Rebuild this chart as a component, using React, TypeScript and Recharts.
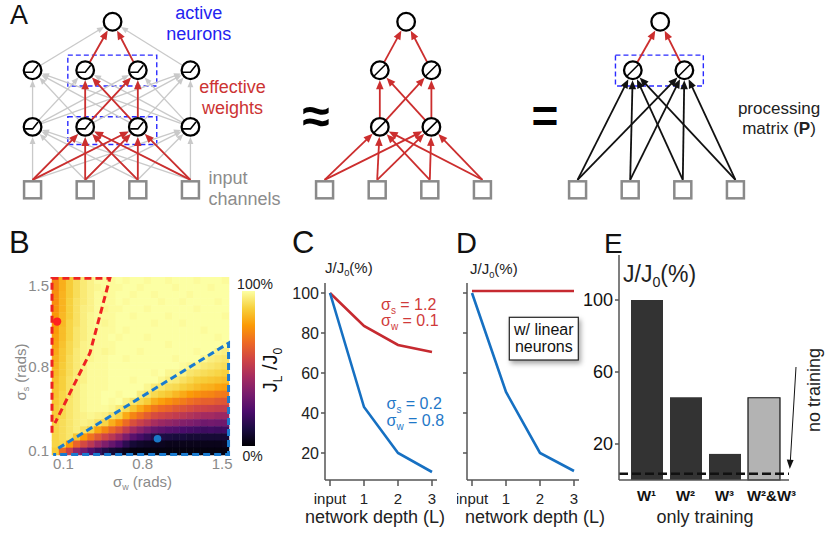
import React from 'react';
import {
  ScatterChart, Scatter, LineChart, Line, BarChart, Bar, Cell,
  XAxis, YAxis, ReferenceLine, ReferenceArea,
} from 'recharts';

const FONT = '"Liberation Sans", Arial, Helvetica, sans-serif';
const RED = '#c62a30';
const BLUE = '#1670c2';
const EDGE_RED = '#cc2e2e';
const EDGE_GREY = '#c9c9c9';
const LABEL_GREY = '#8a8a8a';

// ---------- A: network diagrams (column index, layer index) ----------
const layerHeights = [0, 1.0, 1.9, 2.67];
const inputCols = [0, 1, 2, 3];
const wideHidden = [0, 1, 2, 3];
const narrowHidden = [1.05, 2.03];
const boxPad: Record<number, [number, number]> = { 1: [-0.28, 0.16], 2: [-0.25, 0.24] };

const nets = [
  { left: 1, hiddenCols: wideHidden, hiddenLayers: [1, 2], active: [1, 2], topCol: 1.52, icon: 'relu', inColor: EDGE_RED, grey: true, boxes: [1, 2] },
  { left: 293, hiddenCols: narrowHidden, hiddenLayers: [1, 2], active: [0, 1], topCol: 1.55, icon: 'lin', inColor: EDGE_RED, grey: false, boxes: [] as number[] },
  { left: 546, hiddenCols: narrowHidden, hiddenLayers: [2], active: [0, 1], topCol: 1.57, icon: 'lin', inColor: '#111', grey: false, boxes: [2] },
];

// ---------- B: heat map J_L/J_0 (%), rows top (sigma_s=1.5) -> bottom (0.1), cols sigma_w 0 -> 1.56 ----------
const heatRows: number[][] = [
  [74, 82, 88, 92, 95, 97, 99, 99, 99, 100, 99, 100, 100, 99, 100, 100, 99, 100, 100, 100, 99, 100, 100, 100, 99],
  [74, 82, 88, 92, 95, 97, 98, 99, 99, 99, 100, 100, 99, 100, 100, 100, 100, 99, 100, 100, 100, 100, 99, 100, 100],
  [75, 83, 88, 92, 95, 97, 99, 98, 99, 100, 100, 99, 100, 100, 99, 100, 100, 100, 100, 99, 100, 100, 100, 100, 100],
  [75, 83, 89, 93, 95, 97, 99, 99, 99, 100, 99, 100, 100, 100, 100, 99, 100, 100, 99, 100, 100, 100, 100, 99, 100],
  [76, 83, 89, 93, 96, 97, 99, 98, 99, 99, 100, 100, 100, 99, 100, 100, 100, 100, 100, 100, 99, 100, 100, 100, 100],
  [77, 84, 89, 93, 96, 98, 99, 99, 99, 100, 100, 99, 100, 100, 100, 100, 99, 100, 100, 100, 100, 100, 100, 100, 99],
  [77, 84, 90, 93, 96, 98, 99, 98, 99, 100, 100, 100, 100, 100, 99, 100, 100, 100, 99, 100, 100, 100, 100, 100, 100],
  [78, 85, 90, 94, 96, 98, 99, 99, 99, 100, 99, 100, 100, 100, 100, 100, 100, 100, 100, 100, 100, 99, 100, 100, 100],
  [79, 85, 90, 94, 96, 98, 99, 99, 100, 99, 100, 100, 100, 99, 100, 100, 100, 100, 100, 100, 100, 100, 100, 99, 100],
  [80, 86, 91, 94, 97, 98, 99, 99, 99, 100, 100, 100, 100, 100, 100, 100, 99, 100, 100, 100, 100, 100, 100, 100, 99],
  [81, 87, 91, 95, 97, 98, 99, 98, 99, 100, 100, 100, 99, 100, 100, 100, 100, 100, 100, 100, 99, 100, 100, 97, 96],
  [82, 87, 92, 95, 97, 98, 99, 99, 100, 100, 99, 100, 100, 100, 100, 100, 100, 99, 100, 100, 100, 98, 96, 95, 94],
  [83, 88, 92, 95, 97, 99, 99, 99, 100, 100, 100, 100, 100, 100, 100, 100, 100, 100, 99, 98, 97, 95, 94, 93, 92],
  [84, 88, 92, 95, 97, 99, 99, 99, 100, 100, 100, 100, 100, 100, 99, 100, 98, 98, 97, 94, 93, 92, 91, 90, 89],
  [85, 89, 93, 96, 97, 99, 99, 99, 100, 100, 100, 99, 100, 100, 100, 98, 96, 95, 93, 91, 89, 88, 87, 86, 85],
  [86, 89, 93, 96, 98, 99, 99, 99, 100, 100, 100, 100, 100, 98, 95, 94, 92, 91, 89, 87, 85, 83, 82, 80, 79],
  [86, 90, 93, 96, 98, 99, 99, 100, 100, 99, 100, 100, 96, 94, 91, 89, 87, 84, 81, 78, 76, 74, 73, 71, 70],
  [87, 90, 94, 96, 98, 99, 99, 100, 99, 100, 97, 94, 91, 88, 82, 79, 76, 73, 71, 68, 66, 64, 64, 62, 61],
  [88, 91, 94, 96, 98, 99, 99, 99, 98, 95, 92, 87, 81, 75, 70, 67, 65, 62, 60, 58, 56, 55, 54, 53, 53],
  [88, 91, 94, 96, 97, 98, 97, 96, 93, 90, 81, 73, 68, 63, 58, 56, 54, 52, 50, 48, 46, 44, 44, 42, 42],
  [90, 92, 94, 96, 97, 96, 93, 90, 82, 75, 67, 59, 54, 50, 45, 42, 40, 38, 36, 35, 33, 31, 32, 31, 31],
  [90, 92, 94, 96, 93, 89, 80, 73, 66, 60, 52, 44, 38, 33, 29, 27, 25, 24, 22, 21, 20, 19, 20, 19, 20],
  [90, 92, 94, 87, 78, 69, 62, 56, 50, 43, 34, 26, 21, 17, 13, 12, 11, 10, 10, 9, 9, 9, 9, 9, 9],
  [90, 91, 78, 65, 57, 50, 42, 35, 29, 23, 15, 9, 7, 6, 5, 5, 4, 4, 4, 4, 4, 4, 4, 4, 5],
  [88, 67, 54, 40, 32, 24, 18, 13, 9, 7, 4, 2, 2, 2, 2, 2, 2, 2, 2, 2, 2, 2, 2, 2, 2],
];
const swDomain = [0, 1.56];
const ssDomain = [0.064, 1.553];
const heatTicks = [0.1, 0.8, 1.5];
const redRegion = [
  { x: 0.0, y: 0.25 }, { x: 0.0, y: 1.543 }, { x: 0.51, y: 1.543 }, { x: 0.335, y: 0.92 }, { x: 0.026, y: 0.33 },
];
const blueRegion = [
  { x: 0.055, y: 0.12 }, { x: 1.556, y: 1.0 }, { x: 1.556, y: 0.068 }, { x: 0.01, y: 0.068 },
];
const redPoint = [{ x: 0.045, y: 1.18 }];
const bluePoint = [{ x: 0.93, y: 0.2 }];

// ---------- C / D: J/J0 vs depth ----------
const depthLabels = ['input', '1', '2', '3'];
const cRed = [100, 83.5, 74, 70.5];
const cBlue = [100, 43, 20, 10.5];
const dRed = [101, 101, 101, 101];
const dBlue = [100, 50.5, 20, 11];
const depthTicks = [20, 40, 60, 80, 100];

// ---------- E: only-training bars ----------
const eLabels = ['W¹', 'W²', 'W³', 'W²&W³'];
const eValues = [100, 46, 14.5, 45.7];
const eFills = ['#333333', '#333333', '#333333', '#b3b3b3'];
const noTraining = 3.5;

const INFERNO = ['#000004', '#1b0c42', '#4b0c6b', '#781c6d', '#a52c60', '#cf4446', '#ed6925', '#fb9a06', '#f7d03c', '#fcffa4'];
function hex(c: string) {
  return [1, 3, 5].map((i) => parseInt(c.slice(i, i + 2), 16));
}
function inferno(v: number) {
  const t = Math.max(0, Math.min(1, v)) * 9;
  const i = Math.min(8, Math.floor(t));
  const f = t - i;
  const a = hex(INFERNO[i]);
  const b = hex(INFERNO[i + 1]);
  const m = a.map((x, k) => Math.round(x + (b[k] - x) * f));
  return `rgb(${m[0]},${m[1]},${m[2]})`;
}

function arrowShape(color: string, width: number, head: number, fromSquare: boolean) {
  return (p: any) => {
    const { x1, y1, x2, y2 } = p;
    let sx = x1;
    let sy = fromSquare ? y1 - 10 : y1;
    const dx = x2 - sx;
    const dy = y2 - sy;
    const len = Math.hypot(dx, dy) || 1;
    const ux = dx / len;
    const uy = dy / len;
    if (!fromSquare) {
      sx += ux * 9.5;
      sy += uy * 9.5;
    }
    const tx = x2 - ux * 10;
    const ty = y2 - uy * 10;
    const bx = tx - ux * head;
    const by = ty - uy * head;
    const hw = head * 0.42;
    return (
      <g>
        <line x1={sx} y1={sy} x2={bx + ux} y2={by + uy} stroke={color} strokeWidth={width} />
        <polygon points={`${tx},${ty} ${bx - uy * hw},${by + ux * hw} ${bx + uy * hw},${by - ux * hw}`} fill={color} />
      </g>
    );
  };
}

const SquareNode = (p: any) => (
  <rect x={p.cx - 8.5} y={p.cy - 8.5} width={17} height={17} fill="#fff" stroke="#8a8a8a" strokeWidth={2.5} />
);
const OutNode = (p: any) => <circle cx={p.cx} cy={p.cy} r={8.8} fill="#fff" stroke="#000" strokeWidth={2.3} />;
const ReluNode = (p: any) => (
  <g>
    <circle cx={p.cx} cy={p.cy} r={8.8} fill="#fff" stroke="#000" strokeWidth={2.3} />
    <polyline points={`${p.cx - 7.5},${p.cy + 2} ${p.cx},${p.cy + 2} ${p.cx + 5.5},${p.cy - 5}`} fill="none" stroke="#000" strokeWidth={1.6} />
  </g>
);
const LinNode = (p: any) => (
  <g>
    <circle cx={p.cx} cy={p.cy} r={8.8} fill="#fff" stroke="#000" strokeWidth={2.3} />
    <line x1={p.cx - 6} y1={p.cy + 6} x2={p.cx + 6} y2={p.cy - 6} stroke="#000" strokeWidth={1.5} />
  </g>
);

type P = { x: number; y: number };
function Network({ cfg }: { cfg: (typeof nets)[number] }) {
  const inputs: P[] = inputCols.map((c) => ({ x: c, y: layerHeights[0] }));
  const hidden: P[][] = cfg.hiddenLayers.map((l) => cfg.hiddenCols.map((c) => ({ x: c, y: layerHeights[l] })));
  const top: P[] = [{ x: cfg.topCol, y: layerHeights[3] }];
  const layers = [inputs, ...hidden, top];
  const greyEdges: { a: P; b: P; sq: boolean }[] = [];
  const inEdges: { a: P; b: P; sq: boolean }[] = [];
  const redEdges: { a: P; b: P; sq: boolean }[] = [];
  for (let k = 0; k < layers.length - 1; k++) {
    const from = layers[k];
    const to = layers[k + 1];
    const fromAct = k === 0 ? from : cfg.active.map((i) => from[i]);
    const toAct = k + 1 === layers.length - 1 ? to : cfg.active.map((i) => to[i]);
    if (cfg.grey) from.forEach((a) => to.forEach((b) => greyEdges.push({ a, b, sq: k === 0 })));
    fromAct.forEach((a) => toAct.forEach((b) => (k === 0 ? inEdges : redEdges).push({ a, b, sq: k === 0 })));
  }
  const hiddenNodes = hidden.flat();
  const actCols = cfg.active.map((i) => cfg.hiddenCols[i]);
  return (
    <ScatterChart width={221} height={214} margin={{ top: 0, right: 0, bottom: 0, left: 0 }}>
      <XAxis type="number" dataKey="x" domain={[-0.6, 3.6]} hide />
      <YAxis type="number" dataKey="y" domain={[-0.4, 3.0]} hide />
      {cfg.boxes.map((l) => (
        <ReferenceArea
          key={`box${l}`}
          x1={Math.min(...actCols) - 0.33}
          x2={Math.max(...actCols) + 0.36}
          y1={layerHeights[l] + boxPad[l][0]}
          y2={layerHeights[l] + boxPad[l][1]}
          fill="none"
          fillOpacity={0}
          stroke="#2a2aff"
          strokeWidth={1.4}
          strokeDasharray="5 3"
        />
      ))}
      {greyEdges.map((e, i) => (
        <ReferenceLine key={`g${i}`} segment={[e.a, e.b]} shape={arrowShape(EDGE_GREY, 1.3, 7, e.sq)} />
      ))}
      {inEdges.map((e, i) => (
        <ReferenceLine key={`i${i}`} segment={[e.a, e.b]} shape={arrowShape(cfg.inColor, 1.8, 9, true)} />
      ))}
      {redEdges.map((e, i) => (
        <ReferenceLine key={`r${i}`} segment={[e.a, e.b]} shape={arrowShape(EDGE_RED, 1.8, 9, false)} />
      ))}
      <Scatter data={inputs} shape={SquareNode} isAnimationActive={false} />
      <Scatter data={hiddenNodes} shape={cfg.icon === 'relu' ? ReluNode : LinNode} isAnimationActive={false} />
      <Scatter data={top} shape={OutNode} isAnimationActive={false} />
    </ScatterChart>
  );
}

const HeatCell = (p: any) => {
  const v = p.payload?.v ?? p.v;
  return <rect x={p.cx - 3.8} y={p.cy - 3.8} width={7.6} height={7.6} fill={inferno(v / 100)} />;
};
const NoShape = () => <g />;

function HeatMap() {
  const nr = heatRows.length;
  const nc = heatRows[0].length;
  const cells = heatRows.flatMap((row, r) =>
    row.map((v, c) => ({
      x: swDomain[0] + ((c + 0.5) * (swDomain[1] - swDomain[0])) / nc,
      y: ssDomain[1] - ((r + 0.5) * (ssDomain[1] - ssDomain[0])) / nr,
      v,
    })),
  );
  const tick = { fontSize: 15, fill: LABEL_GREY };
  return (
    <ScatterChart width={235} height={208} margin={{ top: 0, right: 6, bottom: 0, left: 0 }}>
      <XAxis type="number" dataKey="x" domain={swDomain} ticks={heatTicks} axisLine={false} tickLine={false} tickSize={0} tickMargin={3} tick={tick} height={30} />
      <YAxis type="number" dataKey="y" domain={ssDomain} ticks={heatTicks} axisLine={false} tickLine={false} tickSize={0} tickMargin={3} tick={tick} width={52} />
      <Scatter data={cells} shape={HeatCell} isAnimationActive={false} />
      <Scatter data={redRegion} shape={NoShape} line={{ stroke: '#ee2222', strokeWidth: 3, strokeDasharray: '7 4' }} isAnimationActive={false} />
      <Scatter data={blueRegion} shape={NoShape} line={{ stroke: '#1a7bd0', strokeWidth: 3, strokeDasharray: '7 4' }} isAnimationActive={false} />
      <Scatter data={redPoint} shape={(p: any) => <circle cx={p.cx} cy={p.cy} r={4.2} fill="#ff2020" />} isAnimationActive={false} />
      <Scatter data={bluePoint} shape={(p: any) => <circle cx={p.cx} cy={p.cy} r={3.8} fill="#1a78c8" />} isAnimationActive={false} />
    </ScatterChart>
  );
}

const axisStyle = { stroke: '#555', strokeWidth: 1.5 };

function DepthChart({ red, blue, labels }: { red: number[]; blue: number[]; labels: boolean }) {
  const data = depthLabels.map((d, i) => ({ depth: d, red: red[i], blue: blue[i] }));
  const yw = labels ? 40 : 10;
  return (
    <LineChart width={yw + 112} height={247} data={data} margin={{ top: 0, right: 0, bottom: 0, left: 0 }}>
      <XAxis dataKey="depth" interval={0} padding={{ left: 5, right: 5 }} tickSize={6} tickMargin={7} axisLine={axisStyle} tickLine={axisStyle} tick={{ fontSize: 15, fill: '#222' }} height={50} />
      <YAxis
        width={yw}
        domain={[6.5, 105]}
        ticks={depthTicks}
        tickSize={4}
        axisLine={axisStyle}
        tickLine={axisStyle}
        tick={{ fontSize: 16, fill: '#222' }}
        tickFormatter={labels ? undefined : () => ''}
      />
      <Line type="linear" dataKey="red" stroke={RED} strokeWidth={2.6} dot={false} isAnimationActive={false} />
      <Line type="linear" dataKey="blue" stroke={BLUE} strokeWidth={2.6} dot={false} isAnimationActive={false} />
    </LineChart>
  );
}

const ETick = (p: any) => (
  <text x={p.x + (p.index === 3 ? 8 : 0)} y={p.y} dy="0.71em" textAnchor="middle" fontSize={15} fontWeight="bold" fill="#111">
    {p.payload.value}
  </text>
);

function TrainingChart() {
  const data = eLabels.map((n, i) => ({ name: n, v: eValues[i] }));
  return (
    <BarChart width={240} height={270} data={data} margin={{ top: 0, right: 30, bottom: 0, left: 0 }} barSize={32}>
      <XAxis dataKey="name" interval={0} padding={{ left: 8, right: 6 }} tickLine={false} tickSize={0} tickMargin={10} axisLine={axisStyle} tick={<ETick />} height={45} />
      <YAxis width={40} domain={[0, 125]} ticks={[20, 60, 100]} tickSize={4} axisLine={axisStyle} tickLine={axisStyle} tick={{ fontSize: 18, fill: '#111' }} />
      <Bar dataKey="v" isAnimationActive={false}>
        {data.map((d, i) => (
          <Cell key={d.name} fill={eFills[i]} stroke={i === 3 ? '#111' : 'none'} strokeWidth={1.2} />
        ))}
      </Bar>
      <ReferenceLine y={noTraining} stroke="#111" strokeWidth={2.5} strokeDasharray="9 4" />
    </BarChart>
  );
}

function JJ0({ x, y, size }: { x: number; y: number; size: number }) {
  return (
    <text x={x} y={y} fontSize={size} fill="#222">
      J/J<tspan fontSize={size * 0.62} dy={size * 0.25}>0</tspan>
      <tspan dy={-size * 0.25}>(%)</tspan>
    </text>
  );
}

function Sigma({ x, y, sub, val, color }: { x: number; y: number; sub: string; val: string; color: string }) {
  return (
    <text x={x} y={y} fontSize={16} fill={color}>
      σ<tspan fontSize={10} dy={4}>{sub}</tspan>
      <tspan dy={-4}>{` = ${val}`}</tspan>
    </text>
  );
}

function Overlay() {
  return (
    <svg width={825} height={533} style={{ position: 'absolute', left: 0, top: 0, pointerEvents: 'none', fontFamily: FONT }}>
      <defs>
        <filter id="shadow" x="-20%" y="-20%" width="150%" height="160%">
          <feDropShadow dx="2" dy="3" stdDeviation="2.5" floodColor="#000" floodOpacity="0.35" />
        </filter>
      </defs>
      {/* panel letters */}
      <text x={10} y={23.5} fontSize={27} fill="#111">A</text>
      <text x={9} y={253} fontSize={31} fill="#111">B</text>
      <text x={292} y={253} fontSize={31} fill="#111">C</text>
      <text x={456} y={253} fontSize={29} fill="#111">D</text>
      <text x={604} y={253} fontSize={28} fill="#111">E</text>

      {/* A annotations */}
      <text x={198.7} y={18.5} fontSize={18} fill="#2323f0" textAnchor="middle">active</text>
      <text x={198.7} y={40} fontSize={18} fill="#2323f0" textAnchor="middle">neurons</text>
      <text x={232.5} y={93} fontSize={18} fill="#cc3333" textAnchor="middle">effective</text>
      <text x={232.5} y={113.5} fontSize={18} fill="#cc3333" textAnchor="middle">weights</text>
      <text x={208.5} y={183.5} fontSize={18} fill="#8c8c8c">input</text>
      <text x={208.5} y={205} fontSize={18} fill="#8c8c8c">channels</text>
      <text x={316} y={133} fontSize={50} fontWeight="bold" fill="#000" textAnchor="middle">≈</text>
      <text x={545} y={132} fontSize={46} fontWeight="bold" fill="#000" textAnchor="middle">=</text>
      <text x={779} y={113.5} fontSize={17} fill="#222" textAnchor="middle">processing</text>
      <text x={779} y={134} fontSize={17} fill="#222" textAnchor="middle">
        matrix (<tspan fontWeight="bold">P</tspan>)
      </text>

      {/* B labels */}
      <text x={26} y={372} fontSize={15} fill={LABEL_GREY} textAnchor="middle" transform="rotate(-90 26 372)">
        σ<tspan fontSize={9} dy={3}>s</tspan>
        <tspan dy={-3}> (rads)</tspan>
      </text>
      <text x={142.5} y={487} fontSize={15} fill={LABEL_GREY} textAnchor="middle">
        σ<tspan fontSize={9} dy={3}>w</tspan>
        <tspan dy={-3}> (rads)</tspan>
      </text>
      <text x={255} y={288.5} fontSize={14} fill="#222" textAnchor="middle">100%</text>
      <text x={252.5} y={460.5} fontSize={14} fill="#222" textAnchor="middle">0%</text>
      <text x={277} y={370} fontSize={20} fill="#111" textAnchor="middle" transform="rotate(-90 277 370)">
        J<tspan fontSize={12} dy={5}>L</tspan>
        <tspan dy={-5}> /J</tspan>
        <tspan fontSize={12} dy={5}>0</tspan>
      </text>

      {/* C */}
      <JJ0 x={325} y={272.5} size={15} />
      <Sigma x={381} y={310} sub="s" val="1.2" color="#d03a3a" />
      <Sigma x={381} y={326} sub="w" val="0.1" color="#d03a3a" />
      <Sigma x={386.5} y={409} sub="s" val="0.2" color="#1f78c8" />
      <Sigma x={386.5} y={426} sub="w" val="0.8" color="#1f78c8" />
      <text x={375} y={523} fontSize={18} fill="#222" textAnchor="middle">network depth (L)</text>

      {/* D */}
      <JJ0 x={470} y={274} size={15} />
      <rect x={509.3} y={317.3} width={69} height={42.7} fill="#fff" stroke="#222" strokeWidth={1.2} filter="url(#shadow)" />
      <text x={543.8} y={335} fontSize={16} fill="#111" textAnchor="middle">w/ linear</text>
      <text x={543.8} y={351.7} fontSize={16} fill="#111" textAnchor="middle">neurons</text>
      <text x={535} y={523} fontSize={18} fill="#222" textAnchor="middle">network depth (L)</text>

      {/* E */}
      <JJ0 x={623} y={281.5} size={23} />
      <text x={705} y={523} fontSize={18} fill="#222" textAnchor="middle">only training</text>
      <text x={820} y={390} fontSize={18} fill="#222" textAnchor="middle" transform="rotate(-90 820 390)">no training</text>
      <line x1={796} y1={367} x2={790.4} y2={460} stroke="#111" strokeWidth={1} />
      <polygon points="789.8,469 786.8,459.5 793.6,459.9" fill="#111" />
    </svg>
  );
}

export default function App() {
  const stops = INFERNO.map((c, i) => `${c} ${(i / 9) * 100}%`).join(', ');
  return (
    <div style={{ position: 'relative', width: 825, height: 533, background: '#fff', fontFamily: FONT, overflow: 'hidden' }}>
      <style>{'body{margin:0;}'}</style>
      {nets.map((n, i) => (
        <div key={i} style={{ position: 'absolute', left: n.left, top: 1 }}>
          <Network cfg={n} />
        </div>
      ))}
      <div style={{ position: 'absolute', left: 0, top: 277 }}>
        <HeatMap />
      </div>
      <div style={{ position: 'absolute', left: 241.7, top: 290.7, width: 13.3, height: 155.3, background: `linear-gradient(to top, ${stops})` }} />
      <div style={{ position: 'absolute', left: 285, top: 283 }}>
        <DepthChart red={cRed} blue={cBlue} labels />
      </div>
      <div style={{ position: 'absolute', left: 457, top: 283 }}>
        <DepthChart red={dRed} blue={dBlue} labels={false} />
      </div>
      <div style={{ position: 'absolute', left: 579, top: 255 }}>
        <TrainingChart />
      </div>
      <Overlay />
    </div>
  );
}
